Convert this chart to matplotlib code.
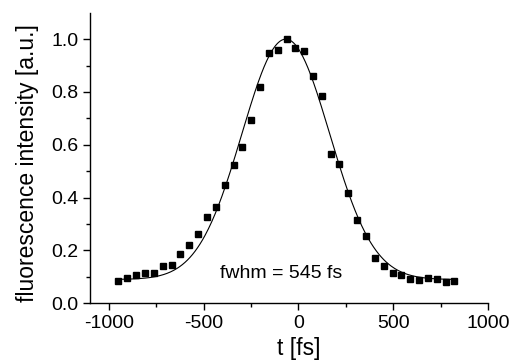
import numpy as np
import matplotlib
matplotlib.use('Agg')
import matplotlib.pyplot as plt

plt.rcParams['font.family'] = ['Liberation Sans', 'DejaVu Sans']
plt.rcParams['axes.unicode_minus'] = False   # 刻度用普通连字符

t_fs = [-951, -904, -858, -810, -763, -716, -670, -625, -577, -532,
        -484, -437, -389, -342, -296, -249, -204, -156, -109, -63,
        -16, 30, 77, 123, 170, 216, 263, 311, 356, 404,
        451, 497, 542, 589, 637, 682, 730, 777, 823]
intensity = [0.086, 0.096, 0.106, 0.116, 0.115, 0.140, 0.145, 0.186, 0.220, 0.263,
             0.326, 0.364, 0.446, 0.525, 0.592, 0.692, 0.817, 0.949, 0.959, 1.000,
             0.966, 0.956, 0.861, 0.784, 0.564, 0.529, 0.417, 0.316, 0.254, 0.172,
             0.140, 0.114, 0.107, 0.091, 0.088, 0.097, 0.091, 0.082, 0.086]

# 高斯拟合参数
fwhm = 545
center = -67
amplitude = 0.91
offset = 0.09

fig = plt.figure(figsize=(5.15, 3.63), dpi=100)
ax = fig.add_axes([0.1748, 0.1645, 0.7728, 0.8005])

sigma = fwhm / (2 * np.sqrt(2 * np.log(2)))
t_fit = np.linspace(min(t_fs), max(t_fs), 400)
fit = offset + amplitude * np.exp(-(t_fit - center) ** 2 / (2 * sigma ** 2))
ax.plot(t_fit, fit, color='black', lw=0.8)
ax.plot(t_fs, intensity, 's', color='black', markersize=4.6)

ax.text(-90, 0.111, f"fwhm = {fwhm} fs", fontsize=14, ha='center', va='center')

ax.set_xlim(-1100, 1000)
ax.set_ylim(0, 1.1)
ax.set_xticks([-1000, -500, 0, 500, 1000])
ax.set_xticks([-750, -250, 250, 750], minor=True)
ax.set_yticks([0.0, 0.2, 0.4, 0.6, 0.8, 1.0])
ax.set_yticklabels(['0.0', '0.2', '0.4', '0.6', '0.8', '1.0'])
ax.set_yticks([0.1, 0.3, 0.5, 0.7, 0.9], minor=True)
ax.tick_params(which='major', length=5, width=1, labelsize=14, direction='out')
ax.tick_params(which='minor', length=3, width=1, direction='out')

for side in ['top', 'right']:
    ax.spines[side].set_visible(False)
for side in ['left', 'bottom']:
    ax.spines[side].set_linewidth(1)

ax.set_xlabel("t [fs]", fontsize=16.5)
ax.set_ylabel("fluorescence intensity [a.u.]", fontsize=16.5)
ax.xaxis.set_label_coords(0.525, -0.117)
ax.yaxis.set_label_coords(-0.127, 0.483)

fig.savefig("out.png", dpi=100)
